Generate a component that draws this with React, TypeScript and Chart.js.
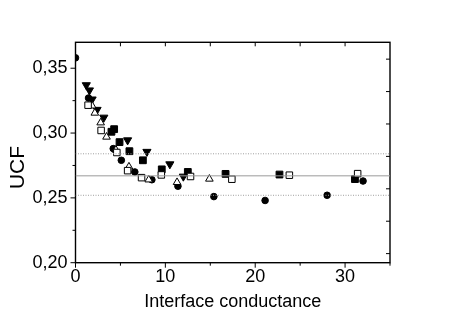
import React, { useEffect, useRef } from "react";
import { Chart, registerables } from "chart.js";

Chart.register(...registerables);

const xMin = 0;
const xMax = 35;
const yMin = 0.2;
const yMax = 0.37;
const xTickValues = [0, 10, 20, 30];
const xMinorTicks = [5, 15, 25, 35];
const xTopTicks = [5, 10, 15, 20, 25, 30];
const yTickValues = [0.2, 0.25, 0.3, 0.35];
const yMinorTicks = [0.225, 0.275, 0.325];
const rightAxisMin = 0.193;
const rightAxisMax = 0.363;
const rightTicks = [0.2, 0.225, 0.25, 0.275, 0.3, 0.325, 0.35];
const yTitle = "UCF";
const xTitle = "Interface conductance";

const circleX = [0, 1.45, 4.2, 5.1, 6.6, 8.5, 11.4, 15.4, 21.1, 28.0, 32.0];
const circleY = [0.358, 0.327, 0.288, 0.279, 0.27, 0.264, 0.259, 0.251, 0.248, 0.252, 0.263];
const fSquareX = [4.0, 4.3, 4.9, 6.0, 7.5, 9.6, 12.5, 16.7, 22.7, 31.1];
const fSquareY = [0.301, 0.303, 0.293, 0.286, 0.279, 0.272, 0.27, 0.2685, 0.268, 0.2645];
const oSquareX = [1.4, 2.85, 4.6, 5.8, 7.35, 9.55, 12.8, 17.4, 23.8, 31.4];
const oSquareY = [0.3215, 0.302, 0.285, 0.271, 0.2656, 0.2677, 0.2665, 0.2644, 0.2675, 0.2687];
const oTriX = [1.85, 2.15, 2.8, 3.45, 4.5, 5.95, 8.15, 11.3, 14.9];
const oTriY = [0.321, 0.3155, 0.308, 0.297, 0.287, 0.274, 0.264, 0.262, 0.2646];
const fTriX = [1.2, 1.55, 1.85, 2.4, 3.15, 5.8, 7.95, 10.5, 12.0];
const fTriY = [0.337, 0.333, 0.326, 0.318, 0.312, 0.2945, 0.2856, 0.276, 0.2665];
const meanLine = 0.267;
const upperLine = 0.284;
const lowerLine = 0.252;

const FONT = "'Liberation Sans', Arial, Helvetica, sans-serif";

const pts = (xs: number[], ys: number[]) => xs.map((x, i) => ({ x, y: ys[i] }));
const hline = (v: number) => [
  { x: xMin, y: v },
  { x: xMax, y: v },
];

const framePlugin = {
  id: "frame",
  beforeDatasetsDraw(chart: any) {
    const { ctx, chartArea: a, scales } = chart;
    const sx = scales.x;
    const sy = scales.y;
    const sy2 = scales.y2;
    ctx.save();
    ctx.strokeStyle = "#000";
    ctx.lineWidth = 1;
    ctx.beginPath();
    yTickValues.forEach((v) => {
      const p = sy.getPixelForValue(v);
      ctx.moveTo(a.left, p);
      ctx.lineTo(a.left - 5, p);
    });
    yMinorTicks.forEach((v) => {
      const p = sy.getPixelForValue(v);
      ctx.moveTo(a.left, p);
      ctx.lineTo(a.left - 3, p);
    });
    xTickValues.forEach((v) => {
      const p = sx.getPixelForValue(v);
      ctx.moveTo(p, a.bottom);
      ctx.lineTo(p, a.bottom + 5);
    });
    xMinorTicks.forEach((v) => {
      const p = sx.getPixelForValue(v);
      ctx.moveTo(p, a.bottom);
      ctx.lineTo(p, a.bottom + 3);
    });
    xTopTicks.forEach((v) => {
      const p = sx.getPixelForValue(v);
      ctx.moveTo(p, a.top);
      ctx.lineTo(p, a.top + 4);
    });
    rightTicks.forEach((v) => {
      const p = sy2.getPixelForValue(v);
      ctx.moveTo(a.right, p);
      ctx.lineTo(a.right - 4, p);
    });
    ctx.stroke();
    ctx.lineWidth = 1.4;
    ctx.strokeRect(a.left, a.top, a.right - a.left, a.bottom - a.top);
    ctx.restore();
  },
  afterDraw(chart: any) {
    const { ctx, chartArea: a } = chart;
    ctx.save();
    ctx.fillStyle = "#000";
    ctx.font = `21px ${FONT}`;
    ctx.textAlign = "center";
    ctx.textBaseline = "middle";
    ctx.translate(a.left - 57, (a.top + a.bottom) / 2 + 15);
    ctx.rotate(-Math.PI / 2);
    ctx.fillText(yTitle, 0, 0);
    ctx.restore();
  },
};

const markerBase = {
  type: "scatter" as const,
  showLine: false,
  borderColor: "#000",
  borderWidth: 1,
};

export default function App() {
  const ref = useRef<HTMLCanvasElement | null>(null);

  useEffect(() => {
    if (!ref.current) return;
    const chart = new Chart(ref.current, {
      type: "scatter",
      data: {
        datasets: [
          {
            type: "line",
            data: hline(meanLine),
            borderColor: "#9a9a9a",
            borderWidth: 1,
            pointRadius: 0,
          },
          {
            type: "line",
            data: hline(upperLine),
            borderColor: "#a0a0a0",
            borderWidth: 1,
            borderDash: [1, 1.5],
            pointRadius: 0,
          },
          {
            type: "line",
            data: hline(lowerLine),
            borderColor: "#a0a0a0",
            borderWidth: 1,
            borderDash: [1, 1.5],
            pointRadius: 0,
          },
          {
            ...markerBase,
            data: pts(oSquareX, oSquareY),
            pointStyle: "rect",
            pointRadius: 4.6,
            pointBackgroundColor: "#fff",
          },
          {
            ...markerBase,
            data: pts(oTriX, oTriY),
            pointStyle: "triangle",
            pointRadius: 4.4,
            pointBackgroundColor: "#fff",
          },
          {
            ...markerBase,
            data: pts(fSquareX, fSquareY),
            pointStyle: "rect",
            pointRadius: 4.8,
            pointBackgroundColor: "#000",
          },
          {
            ...markerBase,
            data: pts(fTriX, fTriY),
            pointStyle: "triangle",
            rotation: 180,
            pointRadius: 4.7,
            pointBackgroundColor: "#000",
          },
          {
            ...markerBase,
            data: pts(circleX, circleY),
            pointStyle: "circle",
            pointRadius: 3.3,
            pointBackgroundColor: "#000",
          },
        ] as any,
      },
      options: {
        responsive: false,
        animation: false,
        events: [],
        layout: { padding: { top: 42.3, right: 60, left: 0, bottom: 0 } },
        plugins: {
          legend: { display: false },
          tooltip: { enabled: false },
        },
        scales: {
          x: {
            type: "linear",
            min: xMin,
            max: xMax,
            afterBuildTicks: (s: any) => {
              s.ticks = xTickValues.map((value) => ({ value }));
            },
            afterFit: (s: any) => {
              s.height = 51.3;
            },
            grid: { display: false, drawTicks: false },
            border: { display: false },
            ticks: {
              padding: 4,
              color: "#000",
              font: { family: FONT, size: 18 },
              maxRotation: 0,
              callback: (v: any) => String(v),
            },
            title: {
              display: true,
              text: xTitle,
              color: "#000",
              font: { family: FONT, size: 18 },
              padding: { top: 0, bottom: 1 },
            },
          },
          y: {
            type: "linear",
            min: yMin,
            max: yMax,
            afterBuildTicks: (s: any) => {
              s.ticks = yTickValues.map((value) => ({ value }));
            },
            afterFit: (s: any) => {
              s.width = 75.5;
            },
            grid: { display: false, drawTicks: false },
            border: { display: false },
            ticks: {
              padding: 8,
              color: "#000",
              font: { family: FONT, size: 18 },
              callback: (v: any) => Number(v).toFixed(2).replace(".", ","),
            },
          },
          y2: {
            type: "linear",
            display: false,
            position: "right",
            min: rightAxisMin,
            max: rightAxisMax,
          },
        },
      },
      plugins: [framePlugin],
    });
    return () => chart.destroy();
  }, []);

  return (
    <div style={{ position: "fixed", left: 0, top: 0, width: 450, height: 314, background: "#fff" }}>
      <canvas ref={ref} width={450} height={314} />
    </div>
  );
}
